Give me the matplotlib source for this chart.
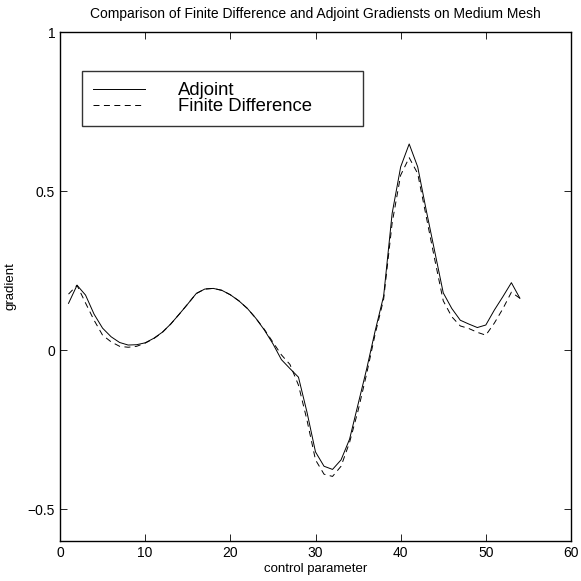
import numpy as np
import matplotlib
matplotlib.use('Agg')
import matplotlib.pyplot as plt

plt.rcParams['font.family'] = ['Liberation Sans', 'DejaVu Sans']
plt.rcParams['lines.scale_dashes'] = False

control = list(range(1, 55))

adjoint = [0.147, 0.204, 0.173, 0.113, 0.069, 0.042, 0.024, 0.016, 0.017, 0.023,
           0.037, 0.056, 0.082, 0.113, 0.145, 0.178, 0.192, 0.194, 0.188, 0.174,
           0.155, 0.131, 0.100, 0.063, 0.020, -0.030, -0.058, -0.085, -0.195, -0.320,
           -0.365, -0.375, -0.345, -0.280, -0.170, -0.060, 0.060, 0.170, 0.430, 0.576,
           0.648, 0.576, 0.440, 0.310, 0.180, 0.131, 0.094, 0.082, 0.071, 0.079,
           0.126, 0.168, 0.212, 0.163]

finite_diff = [0.176, 0.204, 0.148, 0.094, 0.047, 0.026, 0.012, 0.009, 0.012, 0.022,
               0.036, 0.055, 0.082, 0.113, 0.145, 0.178, 0.192, 0.194, 0.188, 0.174,
               0.155, 0.131, 0.100, 0.065, 0.025, -0.015, -0.045, -0.110, -0.220, -0.345,
               -0.390, -0.397, -0.365, -0.290, -0.190, -0.075, 0.050, 0.160, 0.400, 0.550,
               0.605, 0.555, 0.420, 0.285, 0.155, 0.105, 0.076, 0.068, 0.056, 0.047,
               0.085, 0.130, 0.182, 0.163]

fig = plt.figure(figsize=(5.81, 5.81), dpi=100)
ax = fig.add_axes([60 / 581, 1 - 541 / 581, 511 / 581, 509 / 581])

ax.plot(control, adjoint, color='black', lw=0.7, label='Adjoint')
ax.plot(control, finite_diff, color='black', lw=0.7, dashes=(4.3, 3.2), label='Finite Difference')

ax.set_xlim(0, 60)
ax.set_ylim(-0.6, 1)
ax.set_xticks([0, 10, 20, 30, 40, 50, 60])
ax.set_yticks([-0.5, 0, 0.5, 1])
ax.set_yticklabels(['\u22120.5', '0', '0.5', '1'])
ax.tick_params(direction='in', top=True, right=True, length=5, width=0.6, labelsize=10)
for sp in ax.spines.values():
    sp.set_linewidth(1.0)

ax.set_title('Comparison of Finite Difference and Adjoint Gradiensts on Medium Mesh',
             fontsize=10, pad=10)
ax.set_xlabel('control parameter', fontsize=9.5, labelpad=2)
ax.set_ylabel('gradient', fontsize=9.5, labelpad=8)

leg = ax.legend(loc='upper left', bbox_to_anchor=(0.043, 0.923, 0.55, 0.0), mode='expand',
                fontsize=13.3, handlelength=2.8, handletextpad=1.8, labelspacing=-0.05,
                borderpad=0.6, borderaxespad=0, fancybox=False, frameon=True)
leg.get_frame().set_edgecolor('black')
leg.get_frame().set_linewidth(1.0)

fig.savefig('out.png', dpi=100)
